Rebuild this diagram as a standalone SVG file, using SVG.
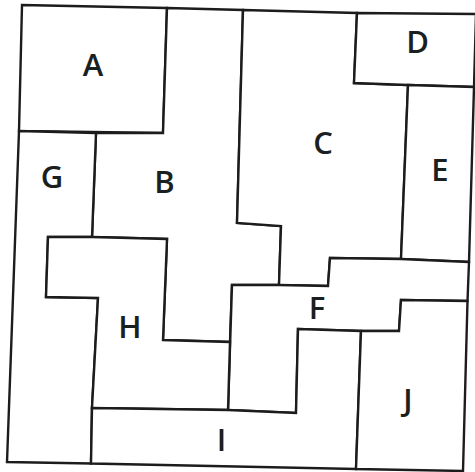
<svg xmlns="http://www.w3.org/2000/svg" width="475" height="472" viewBox="0 0 475 472">
<style>
.r{fill:#fff;stroke:#1c1c1c;stroke-width:2.4;stroke-linejoin:miter}
.t{font-family:"Open Sans","DejaVu Sans",sans-serif;font-weight:600;font-size:31px;fill:#1a2020;text-anchor:middle}
</style>
<rect width="475" height="472" fill="#fff"/>
<g id="A"><polygon class="r" points="22,5 167,8 163,133 19,131"/><text class="t" x="93" y="75.5">A</text></g>
<g id="B"><polygon class="r" points="167,8 243,10 237,223 281,226 279,285 232,285 230,342 163,340 167,239 92,237 96,133 163,133"/><text class="t" x="164.5" y="192.5">B</text></g>
<g id="C"><polygon class="r" points="243,10 357,13 354,83 408,85 401,259 330,258 328,286 279,285 281,226 237,223"/><text class="t" x="323" y="153.5">C</text></g>
<g id="D"><polygon class="r" points="357,13 476,14 474,87 408,85 354,83"/><text class="t" x="417.5" y="53">D</text></g>
<g id="E"><polygon class="r" points="408,85 474,87 469,262 401,259"/><text class="t" x="440" y="181">E</text></g>
<g id="F"><polygon class="r" points="232,285 279,285 328,286 330,258 401,259 469,262 467.5,301 401,300 399,331 361,331 298,329 296,413 228,410"/><text class="t" x="317" y="319">F</text></g>
<g id="G"><polygon class="r" points="19,131 96,133 92,237 48,237 46,297 98,298 92,408 91,463.5 7,462"/><text class="t" x="52" y="188">G</text></g>
<g id="H"><polygon class="r" points="48,237 92,237 167,239 163,340 230,342 228,410 92,408 98,298 46,297"/><text class="t" x="130" y="338">H</text></g>
<g id="I"><polygon class="r" points="91,463.5 92,408 228,410 296,413 298,329 361,331 356,469"/><text class="t" x="221.5" y="451">I</text></g>
<g id="J"><polygon class="r" points="361,331 399,331 401,300 467.5,301 463,471 356,469"/><text class="t" x="408" y="411">J</text></g>
</svg>
